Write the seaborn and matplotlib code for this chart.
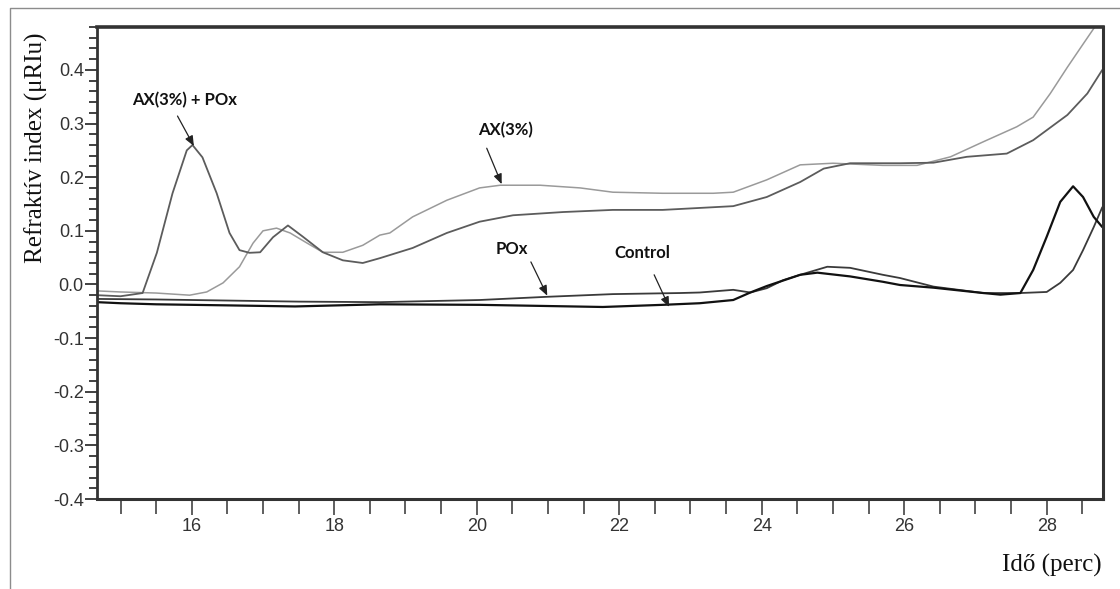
import matplotlib
matplotlib.use("Agg")
import pandas as pd
import seaborn as sns
import matplotlib.pyplot as plt
from matplotlib.lines import Line2D
from matplotlib.ticker import MultipleLocator, FormatStrFormatter


# Values (time in minutes, signal in uRIU)
ax3_time = [14.67, 15.0, 15.5, 15.97, 16.21, 16.44, 16.67, 16.86, 17.0, 17.19,
            17.38, 17.62, 17.84, 18.12, 18.40, 18.64, 18.78, 19.10, 19.58, 20.04,
            20.33, 20.89, 21.45, 21.91, 22.61, 23.32, 23.6, 24.07, 24.54, 25.0,
            25.7, 26.18, 26.65, 27.11, 27.58, 27.81, 28.05, 28.29, 28.52, 28.7]
ax3_signal = [-0.012, -0.014, -0.016, -0.02, -0.014, 0.003, 0.033, 0.077, 0.10, 0.105,
              0.096, 0.077, 0.06, 0.06, 0.073, 0.092, 0.096, 0.126, 0.157, 0.18,
              0.185, 0.185, 0.18, 0.172, 0.17, 0.17, 0.172, 0.195, 0.223, 0.226,
              0.222, 0.222, 0.238, 0.266, 0.294, 0.312, 0.356, 0.405, 0.45, 0.485]

axpox_time = [14.67, 15.0, 15.31, 15.51, 15.73, 15.93, 16.01, 16.15, 16.35, 16.53,
              16.67, 16.81, 16.96, 17.14, 17.35, 17.56, 17.84, 18.12, 18.40, 18.64,
              19.10, 19.58, 20.04, 20.51, 21.21, 21.91, 22.61, 23.32, 23.6, 24.07,
              24.54, 24.87, 25.24, 25.94, 26.41, 26.88, 27.44, 27.81, 28.29, 28.57, 28.78]
axpox_signal = [-0.02, -0.022, -0.016, 0.059, 0.17, 0.25, 0.26, 0.237, 0.17, 0.096,
                0.064, 0.059, 0.06, 0.088, 0.11, 0.089, 0.06, 0.045, 0.04, 0.049,
                0.068, 0.096, 0.117, 0.129, 0.135, 0.139, 0.139, 0.144, 0.146, 0.163,
                0.191, 0.216, 0.226, 0.226, 0.227, 0.238, 0.244, 0.269, 0.316, 0.356, 0.40]

pox_time = [14.67, 15.5, 16.5, 17.5, 18.64, 20.04, 20.99, 21.91, 22.85, 23.13,
            23.6, 23.84, 24.07, 24.3, 24.54, 24.92, 25.24, 25.7, 25.94, 26.41,
            27.11, 27.63, 28.0, 28.19, 28.37, 28.51, 28.66, 28.78]
pox_signal = [-0.027, -0.028, -0.03, -0.032, -0.033, -0.029, -0.023, -0.018, -0.016, -0.015,
              -0.01, -0.015, -0.007, 0.008, 0.018, 0.033, 0.031, 0.018, 0.012, -0.004,
              -0.016, -0.016, -0.014, 0.003, 0.027, 0.064, 0.107, 0.144]

control_time = [14.67, 15.0, 15.5, 16.5, 17.45, 18.64, 20.04, 21.77, 22.61, 23.13,
                23.6, 23.84, 24.07, 24.54, 24.78, 25.24, 25.7, 25.94, 26.41, 27.11,
                27.35, 27.63, 27.81, 28.0, 28.19, 28.37, 28.51, 28.66, 28.78]
control_signal = [-0.033, -0.035, -0.037, -0.039, -0.041, -0.037, -0.038, -0.042, -0.038, -0.035,
                  -0.029, -0.015, -0.003, 0.018, 0.022, 0.015, 0.005, -0.001, -0.006, -0.016,
                  -0.019, -0.016, 0.027, 0.089, 0.154, 0.183, 0.163, 0.126, 0.107]

# label text, text position, arrow tail, arrow head
annotations = [
    ("AX(3%) + POx", (15.90, 0.344), (15.80, 0.314), (16.03, 0.258)),
    ("AX(3%)", (20.40, 0.288), (20.14, 0.254), (20.35, 0.187)),
    ("POx", (20.49, 0.066), (20.76, 0.042), (20.99, -0.021)),
    ("Control", (22.33, 0.059), (22.49, 0.018), (22.70, -0.042)),
]

TICK_FONT = ["Liberation Sans Narrow", "Liberation Sans", "DejaVu Sans"]
SERIF_FONT = ["Liberation Serif", "DejaVu Serif"]
NOTE_FONT = ["Lato", "DejaVu Sans"]


def draw_curves(ax):
    series = [
        (ax3_time, ax3_signal, "#9a9a9a", 1.1),
        (axpox_time, axpox_signal, "#5c5c5c", 1.3),
        (pox_time, pox_signal, "#3a3a3a", 1.3),
        (control_time, control_signal, "#111111", 1.6),
    ]
    for t, s, color, lw in series:
        df = pd.DataFrame({"time": t, "signal": s})
        sns.lineplot(data=df, x="time", y="signal", ax=ax, color=color,
                     linewidth=lw, estimator=None, sort=False)


def style_axes(ax):
    ax.set_xlim(14.67, 28.79)
    ax.set_ylim(-0.4, 0.48)
    ax.xaxis.set_major_locator(MultipleLocator(2))
    ax.xaxis.set_minor_locator(MultipleLocator(0.5))
    ax.yaxis.set_major_locator(MultipleLocator(0.1))
    ax.yaxis.set_minor_locator(MultipleLocator(0.02))
    ax.yaxis.set_major_formatter(FormatStrFormatter("%.1f"))
    ax.set_xlabel("")
    ax.set_ylabel("")

    ax.tick_params(which="both", bottom=True, left=True, top=False, right=False,
                   direction="out")
    ax.tick_params(axis="x", which="major", length=11.5, width=1.1, color="#333333",
                   pad=2, labelsize=13, labelcolor="#333333")
    ax.tick_params(axis="x", which="minor", length=11, width=1.1, color="#333333")
    ax.tick_params(axis="y", which="major", length=8.5, width=1.3, color="#333333",
                   pad=1, labelsize=13, labelcolor="#333333")
    ax.tick_params(axis="y", which="minor", length=5.5, width=1.3, color="#333333")
    for lab in ax.get_xticklabels() + ax.get_yticklabels():
        lab.set_family(TICK_FONT)

    for side, lw in [("left", 2.0), ("bottom", 2.2), ("top", 2.6), ("right", 2.2)]:
        ax.spines[side].set_visible(True)
        ax.spines[side].set_linewidth(lw)
        ax.spines[side].set_color("#333333")


def add_annotations(ax):
    for label, text_pos, tail, head in annotations:
        ax.text(text_pos[0], text_pos[1], label, ha="center", va="center",
                fontsize=12, fontweight="bold", family=NOTE_FONT, color="#111111")
        ax.annotate("", xy=head, xytext=tail,
                    arrowprops=dict(arrowstyle="-|>,head_length=0.6,head_width=0.25",
                                    color="#222222", lw=0.9, shrinkA=0, shrinkB=0))


def main():
    sns.set_style("ticks")
    plt.rcParams["axes.unicode_minus"] = False

    fig = plt.figure(figsize=(11.2, 5.89), dpi=100)
    ax = fig.add_axes([97 / 1120, 1 - 499 / 589, 1006 / 1120, 472 / 589])

    draw_curves(ax)
    style_axes(ax)
    add_annotations(ax)

    # axis titles sit outside the plot box, like in the original export
    fig.text(36 / 1120, 1 - 148 / 589, "Refraktív index (μRIu)", rotation=90,
             ha="center", va="center", fontsize=18, family=SERIF_FONT, color="#111111")
    fig.text(1102 / 1120, 1 - 565 / 589, "Idő (perc)", ha="right", va="center",
             fontsize=18, family=SERIF_FONT, color="#111111")

    # thin frame around the figure (top and left edge)
    frame = Line2D([10 / 1120, 10 / 1120, 1.0], [0.0, 1 - 8 / 589, 1 - 8 / 589],
                   transform=fig.transFigure, color="#8c8c8c", lw=1.0)
    fig.add_artist(frame)

    fig.savefig("out.png", dpi=100)
    plt.close(fig)


if __name__ == "__main__":
    main()
